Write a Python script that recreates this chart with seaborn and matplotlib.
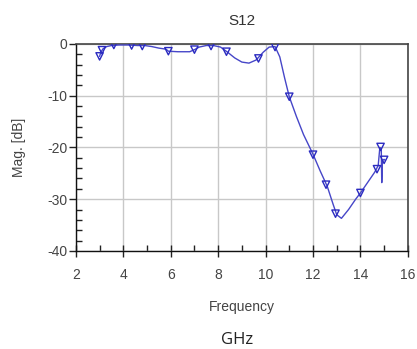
import matplotlib
matplotlib.use("Agg")
import matplotlib.pyplot as plt
import seaborn as sns
import pandas as pd
from matplotlib.ticker import MultipleLocator

# curve data
freq = [3.0, 3.05, 3.15, 3.3, 3.5, 3.8, 4.2, 4.6, 4.9, 5.2, 5.5, 5.8, 5.9, 6.3, 6.8, 7.0,
        7.2, 7.5, 7.8, 8.1, 8.4, 8.7, 9.0, 9.3, 9.6, 9.9, 10.15, 10.4, 10.6, 10.8, 11.0,
        11.3, 11.6, 12.0, 12.3, 12.6, 12.85, 13.0, 13.2, 13.5, 13.8, 14.0, 14.3, 14.6,
        14.75, 14.82, 14.88, 14.9, 14.93, 15.0, 15.05]
mag = [-2.4, -1.6, -0.9, -0.5, -0.3, -0.2, -0.2, -0.3, -0.3, -0.5, -0.8, -1.0, -1.4, -1.5, -1.5, -1.1,
       -0.6, -0.3, -0.3, -0.6, -1.6, -2.7, -3.5, -3.7, -3.1, -1.6, -0.6, -0.5, -2.5, -6.5, -10.2,
       -14.0, -17.5, -21.3, -24.5, -27.5, -31.0, -33.0, -33.7, -32.0, -30.0, -28.8, -26.8, -24.8,
       -23.5, -20.0, -20.2, -26.8, -22.5, -22.3, -22.5]

# marker data
mk_freq = [3.0, 3.1, 3.6, 4.35, 4.8, 5.9, 7.0, 7.7, 8.35, 9.7, 10.4, 11.0, 12.0, 12.55, 12.95,
           14.0, 14.7, 14.85, 15.0]
mk_mag = [-2.4, -1.2, -0.2, -0.3, -0.4, -1.4, -1.1, -0.4, -1.5, -2.8, -0.6, -10.2, -21.4, -27.2,
          -32.8, -28.8, -24.2, -19.9, -22.4]

xticks = [2, 4, 6, 8, 10, 12, 14, 16]
yticks = [0, -10, -20, -30, -40]

sns.set_style("white")
plt.rcParams['font.family'] = ['Liberation Sans', 'DejaVu Sans']
plt.rcParams['axes.unicode_minus'] = False

fig = plt.figure(figsize=(4.17, 3.49), dpi=100)
ax = fig.add_axes([0.182, 0.281, 0.796, 0.593])

line_color = "#4646c8"
df = pd.DataFrame({"f": freq, "m": mag})
dm = pd.DataFrame({"f": mk_freq, "m": mk_mag})
sns.lineplot(data=df, x="f", y="m", ax=ax, color=line_color, linewidth=1.0, sort=False,
             estimator=None, zorder=3)
sns.scatterplot(data=dm, x="f", y="m", ax=ax, marker="v", s=28, facecolor="none",
                edgecolor="#2a2ac0", linewidth=1.0, zorder=4)

ax.set_xlim(2, 16)
ax.set_ylim(-40, 0)
ax.set_xticks(xticks)
ax.set_yticks(yticks)
ax.xaxis.set_minor_locator(MultipleLocator(1))
ax.yaxis.set_minor_locator(MultipleLocator(2))
ax.grid(True, which="major", color="#c8c8c8", linewidth=1.0)
ax.set_axisbelow(True)

ax.tick_params(axis="y", which="both", left=True)
ax.tick_params(axis="x", which="both", bottom=True)
ax.tick_params(axis="y", which="major", direction="out", length=5, width=1, colors="#222222",
               labelsize=10, labelcolor="#444444", pad=1)
ax.tick_params(axis="y", which="minor", direction="in", length=4, width=1, colors="#222222")
ax.tick_params(axis="x", which="major", direction="inout", length=8, width=1, colors="#222222",
               labelsize=10, labelcolor="#444444", pad=8)
ax.tick_params(axis="x", which="minor", direction="in", length=4, width=1, colors="#222222")

for s in ["left", "bottom"]:
    ax.spines[s].set_color("#111111")
    ax.spines[s].set_linewidth(1.0)
for s in ["top", "right"]:
    ax.spines[s].set_color("#444444")
    ax.spines[s].set_linewidth(1.2)

ax.set_title("S12", fontsize=11, color="#333333", pad=14)
ax.set_xlabel("Frequency", fontsize=10, color="#444444", labelpad=13)
ax.set_ylabel("Mag. [dB]", fontsize=10, color="#444444", labelpad=15)

fig.text(0.568, 0.026, "GHz", ha="center", va="center", fontsize=12, color="#222222",
         family=["Open Sans", "DejaVu Sans"])

fig.savefig("out.png", dpi=100)
